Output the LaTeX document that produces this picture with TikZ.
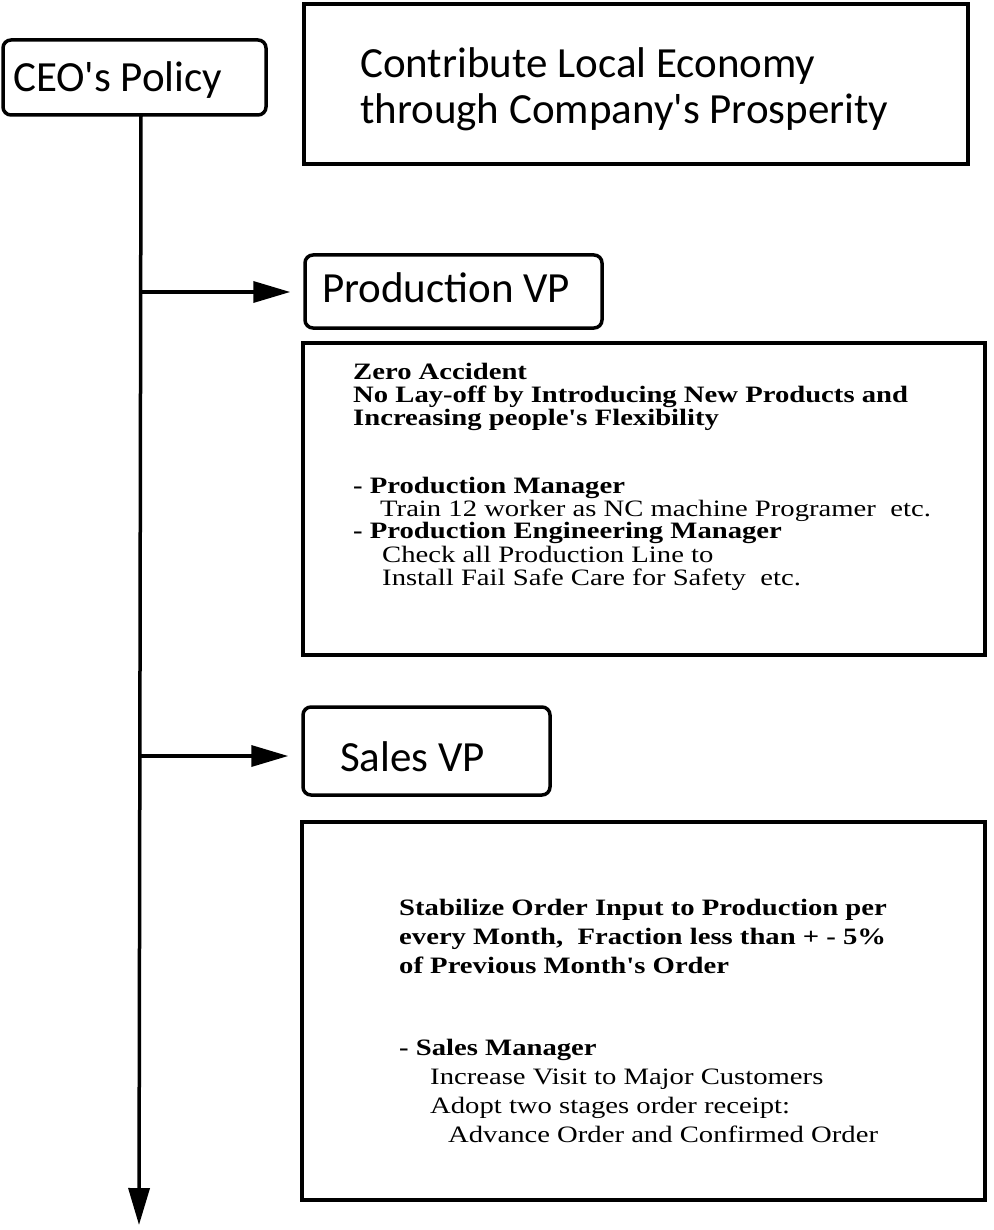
\documentclass[tikz,border=0pt]{standalone}
\usepackage{fontspec}
\setmainfont{Liberation Serif}
\newfontfamily\boxfont{Carlito}
\newfontfamily\notefont[FakeStretch=1.22]{Liberation Serif}
\usetikzlibrary{arrows.meta}
\begin{document}
\begin{tikzpicture}[x=1pt,y=-1pt,
  roundbox/.style={draw, line width=3.5pt, rounded corners=8pt, inner sep=0pt},
  plainbox/.style={draw, line width=3.5pt, inner sep=0pt},
  bigtext/.style={font=\boxfont\fontsize{43}{46}\selectfont, anchor=base west, inner sep=0pt},
  notehead/.style={font=\notefont\bfseries\fontsize{23.5}{24}\selectfont, anchor=base west, inner sep=0pt},
  noteitem/.style={font=\notefont\fontsize{23.5}{24}\selectfont, anchor=base west, inner sep=0pt},
  conn/.style={line width=3.5pt},
  arrowend/.style={-{Triangle[length=37pt,width=21pt]}}
]
\fill[white] (0,0) rectangle (993,1230);
\useasboundingbox (0,0) rectangle (993,1230);

% boxes
\node[roundbox, minimum width=263pt, minimum height=75pt] (ceo) at (134.5,77.5) {};
\node[plainbox, minimum width=664pt, minimum height=160pt] (mission) at (636,84) {};
\node[roundbox, minimum width=297pt, minimum height=73pt] (prodvp) at (453.5,291.5) {};
\node[plainbox, minimum width=682pt, minimum height=312pt] (proddetail) at (644,499) {};
\node[roundbox, minimum width=247pt, minimum height=88pt] (salesvp) at (426.5,751) {};
\node[plainbox, minimum width=683pt, minimum height=378pt] (salesdetail) at (643.5,1011) {};

% box titles
\node[bigtext] (ceotext) at (13,92) {CEO's Policy};
\node[bigtext] (mission1) at (360,78) {Contribute Local Economy};
\node[bigtext] (mission2) at (360,124) {through Company's Prosperity};
\node[bigtext] (prodvptext) at (322,302) {Production VP};
\node[bigtext] (salesvptext) at (340,771) {Sales VP};

% production goals
\node[notehead] (p1) at (353,379) {Zero Accident};
\node[notehead] (p2) at (353,402) {No Lay-off by Introducing New Products and};
\node[notehead] (p3) at (353,425) {Increasing people's Flexibility};
\node[notehead] (p4) at (353,493) {- Production Manager};
\node[noteitem] (p5) at (380,516) {Train 12 worker as NC machine Programer\ \ etc.};
\node[notehead] (p6) at (353,538) {- Production Engineering Manager};
\node[noteitem] (p7) at (382,562) {Check all Production Line to};
\node[noteitem] (p8) at (382,585) {Install Fail Safe Care for Safety\ \ etc.};

% sales goals
\node[notehead] (s1) at (399,915) {Stabilize Order Input to Production per};
\node[notehead] (s2) at (399,944) {every Month,\ \ Fraction less than + - 5\%};
\node[notehead] (s3) at (399,973) {of Previous Month's Order};
\node[notehead] (s4) at (399,1055) {- Sales Manager};
\node[noteitem] (s5) at (430,1084) {Increase Visit to Major Customers};
\node[noteitem] (s6) at (430,1113) {Adopt two stages order receipt:};
\node[noteitem] (s7) at (448,1142) {Advance Order and Confirmed Order};

% policy spine and branches
\coordinate (spinetop) at (141,115);
\coordinate (spineend) at (139,1225);
\coordinate (branchprod) at (141,292);
\coordinate (branchsales) at (140,756);
\draw[conn, arrowend] (spinetop) -- (spineend);
\draw[conn, arrowend, shorten >=13pt] (branchprod) -- (branchprod -| prodvp.west);
\draw[conn, arrowend, shorten >=13pt] (branchsales) -- (branchsales -| salesvp.west);
\end{tikzpicture}
\end{document}
